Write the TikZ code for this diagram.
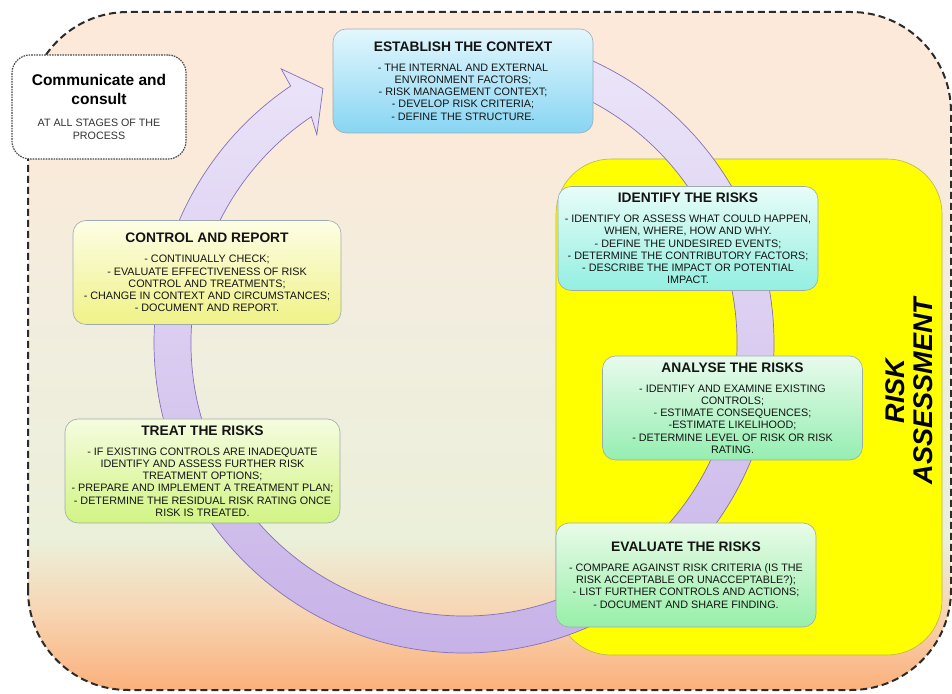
\documentclass[tikz,border=0pt]{standalone}
\usepackage{fontspec}
\setmainfont{Liberation Sans}

% colours
\definecolor{bgtop}{HTML}{FCE9DA}
\definecolor{bgpeach}{HTML}{FBEAD9}
\definecolor{bgmid}{HTML}{F2EDDF}
\definecolor{bggreen}{HTML}{EBF0DA}
\definecolor{bgorange}{HTML}{F7D6B4}
\definecolor{bgbot}{HTML}{FBB07B}
\definecolor{dashline}{HTML}{2B2B2B}
\definecolor{riskyellow}{HTML}{FFFF00}
\definecolor{riskline}{HTML}{B5B55A}
\definecolor{loopA}{HTML}{EEE8FA}
\definecolor{loopB}{HTML}{C6B1E7}
\definecolor{loopline}{HTML}{8471B8}
\definecolor{stageline}{HTML}{9EABAE}
\definecolor{ctxtop}{HTML}{E3F7FD}
\definecolor{ctxbot}{HTML}{87D5F3}
\definecolor{idtop}{HTML}{E8FCF8}
\definecolor{idbot}{HTML}{93EFE1}
\definecolor{antop}{HTML}{E8FBEC}
\definecolor{anbot}{HTML}{95EEB1}
\definecolor{evtop}{HTML}{E9FBE8}
\definecolor{evbot}{HTML}{97EFA9}
\definecolor{ctltop}{HTML}{FDFDE6}
\definecolor{ctlbot}{HTML}{F0F287}
\definecolor{trtop}{HTML}{F5FCDF}
\definecolor{trbot}{HTML}{D2F484}

\pgfdeclareverticalshading{bgshade}{100bp}{color(0bp)=(bgbot); color(25bp)=(bgbot); color(30.9bp)=(bgorange); color(36.1bp)=(bggreen); color(53.8bp)=(bgmid); color(64.8bp)=(bgpeach); color(75bp)=(bgtop); color(100bp)=(bgtop)}

\newcommand{\bodyfont}{\fontsize{10.8}{12.2}\selectfont}
\newcommand{\stagetitle}[1]{{\fontsize{13.8}{14}\selectfont\bfseries #1}\\[7.8pt]}

\begin{document}
\begin{tikzpicture}[x=1pt, y=1pt,
  stage/.style={draw=stageline, line width=0.6pt, rounded corners=13pt,
    minimum width=260pt, minimum height=104pt, inner sep=0pt,
    align=center, font=\bodyfont, text=black!92},
  outerdash/.style={draw=dashline, line width=2pt, dash pattern=on 7pt off 4pt}]

\useasboundingbox (0,0) rectangle (952,693);

% background: whole process
\shadedraw[shading=bgshade, outerdash, rounded corners=100pt] (28,3) rectangle (951,681);

% risk assessment area
\draw[fill=riskyellow, draw=riskline, line width=0.6pt, rounded corners=55pt] (556,38) rectangle (942,534);
\node[rotate=90, align=center, font=\fontsize{27}{28.5}\selectfont\bfseries\itshape] (riskname) at (909,302) {RISK\\ASSESSMENT};

% process loop
\shadedraw[top color=loopA, bottom color=loopB, draw=loopline, line width=0.7pt, shift={(464,350)}]
  (95:310) arc[start angle=95, end angle=-236, radius=310]
  -- (-236.3:329.5) -- (-241:291) -- (-234.75:255) -- (-236:273)
  arc[start angle=-236, end angle=95, radius=273] -- cycle;

% communicate and consult
\node[draw=black!70, fill=white, line width=1.2pt, dash pattern=on 1.6pt off 1pt, rounded corners=18pt,
  minimum width=174pt, minimum height=104pt, inner sep=0pt, align=center,
  font=\fontsize{10.7}{12.7}\selectfont, text=black!80] (comm) at (99,586)
  {{\fontsize{15.5}{16}\selectfont\bfseries\color{black} Communicate and}\\[6.3pt]
   {\fontsize{15.5}{16}\selectfont\bfseries\color{black} consult}\\[9.3pt]
   AT ALL STAGES OF THE\\PROCESS};

% the stages
\node[stage, top color=ctxtop, bottom color=ctxbot] (context) at (463,612)
  {\stagetitle{ESTABLISH THE CONTEXT}
   - THE INTERNAL AND EXTERNAL\\ENVIRONMENT FACTORS;\\- RISK MANAGEMENT CONTEXT;\\
   - DEVELOP RISK CRITERIA;\\- DEFINE THE STRUCTURE.};

\node[stage, top color=idtop, bottom color=idbot] (identify) at (688,454.5)
  {\stagetitle{IDENTIFY THE RISKS}
   - IDENTIFY OR ASSESS WHAT COULD HAPPEN,\\WHEN, WHERE, HOW AND WHY.\\
   - DEFINE THE UNDESIRED EVENTS;\\- DETERMINE THE CONTRIBUTORY FACTORS;\\
   - DESCRIBE THE IMPACT OR POTENTIAL\\IMPACT.};

\node[stage, top color=antop, bottom color=anbot] (analyse) at (732.5,285)
  {\stagetitle{ANALYSE THE RISKS}
   - IDENTIFY AND EXAMINE EXISTING\\CONTROLS;\\- ESTIMATE CONSEQUENCES;\\
   -ESTIMATE LIKELIHOOD;\\- DETERMINE LEVEL OF RISK OR RISK\\RATING.};

\node[stage, top color=evtop, bottom color=evbot] (evaluate) at (686,118)
  {\stagetitle{EVALUATE THE RISKS}
   - COMPARE AGAINST RISK CRITERIA (IS THE\\RISK ACCEPTABLE OR UNACCEPTABLE?);\\
   - LIST FURTHER CONTROLS AND ACTIONS;\\- DOCUMENT AND SHARE FINDING.};

\node[stage, top color=trtop, bottom color=trbot, minimum width=275pt] (treat) at (202.5,222)
  {\stagetitle{TREAT THE RISKS}
   - IF EXISTING CONTROLS ARE INADEQUATE\\IDENTIFY AND ASSESS FURTHER RISK\\
   TREATMENT OPTIONS;\\- PREPARE AND IMPLEMENT A TREATMENT PLAN;\\
   - DETERMINE THE RESIDUAL RISK RATING ONCE\\RISK IS TREATED.};

\node[stage, top color=ctltop, bottom color=ctlbot, minimum width=268pt] (control) at (207,420.5)
  {\stagetitle{CONTROL AND REPORT}
   - CONTINUALLY CHECK;\\- EVALUATE EFFECTIVENESS OF RISK\\CONTROL AND TREATMENTS;\\
   - CHANGE IN CONTEXT AND CIRCUMSTANCES;\\- DOCUMENT AND REPORT.};

\end{tikzpicture}
\end{document}
